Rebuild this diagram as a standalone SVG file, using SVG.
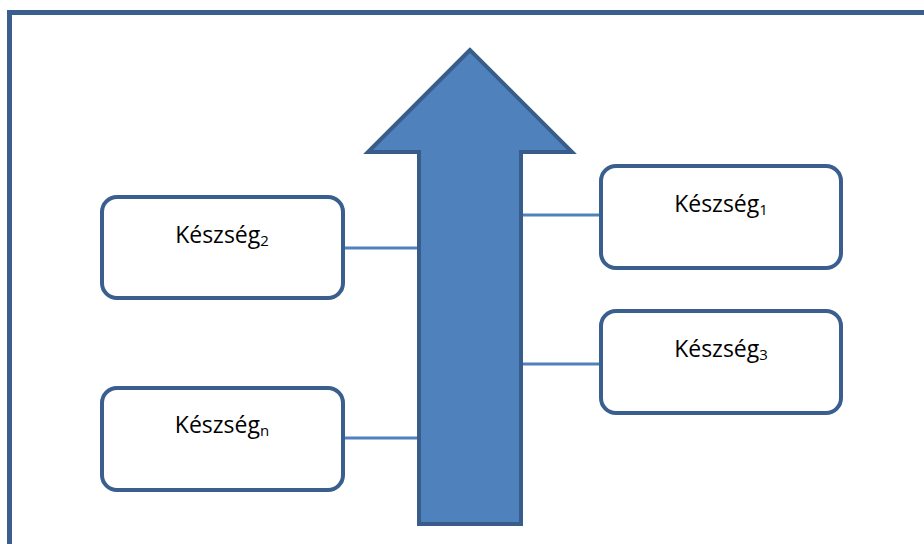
<svg xmlns="http://www.w3.org/2000/svg" width="924" height="544" viewBox="0 0 924 544">
<style>
.box{fill:#fff;stroke:#3A5F8F;stroke-width:4}
.lbl{font-family:"Open Sans","Liberation Sans",Arial,sans-serif;font-size:23px;fill:#000;text-anchor:middle}
.sub{font-size:15px}
.conn{stroke:#4F81BD;stroke-width:3;fill:none}
</style>
<rect width="924" height="544" fill="#fff"/>
<rect id="frame" x="9.5" y="12.5" width="940" height="560" fill="none" stroke="#3A5F8F" stroke-width="5"/>
<g id="connectors">
<line class="conn" x1="345" y1="248" x2="419" y2="248"/>
<line class="conn" x1="345" y1="438" x2="419" y2="438"/>
<line class="conn" x1="521" y1="215" x2="600" y2="215"/>
<line class="conn" x1="521" y1="364" x2="600" y2="364"/>
</g>
<g id="arrow">
<path d="M470 50 L368 152 L419 152 L419 524 L521 524 L521 152 L572 152 Z" fill="#4F81BD" stroke="#385D8A" stroke-width="4" stroke-linejoin="miter"/>
</g>
<g id="skill1">
<rect class="box" x="601" y="166" width="240" height="102" rx="15"/>
<text class="lbl" x="721" y="212">Készség<tspan class="sub" dy="3">1</tspan></text>
</g>
<g id="skill2">
<rect class="box" x="102" y="197" width="241" height="101" rx="15"/>
<text class="lbl" x="222" y="243">Készség<tspan class="sub" dy="3">2</tspan></text>
</g>
<g id="skill3">
<rect class="box" x="601" y="311" width="240" height="102" rx="15"/>
<text class="lbl" x="721" y="357">Készség<tspan class="sub" dy="3">3</tspan></text>
</g>
<g id="skilln">
<rect class="box" x="102" y="388" width="241" height="102" rx="15"/>
<text class="lbl" x="222" y="433">Készség<tspan class="sub" dy="3">n</tspan></text>
</g>
</svg>
